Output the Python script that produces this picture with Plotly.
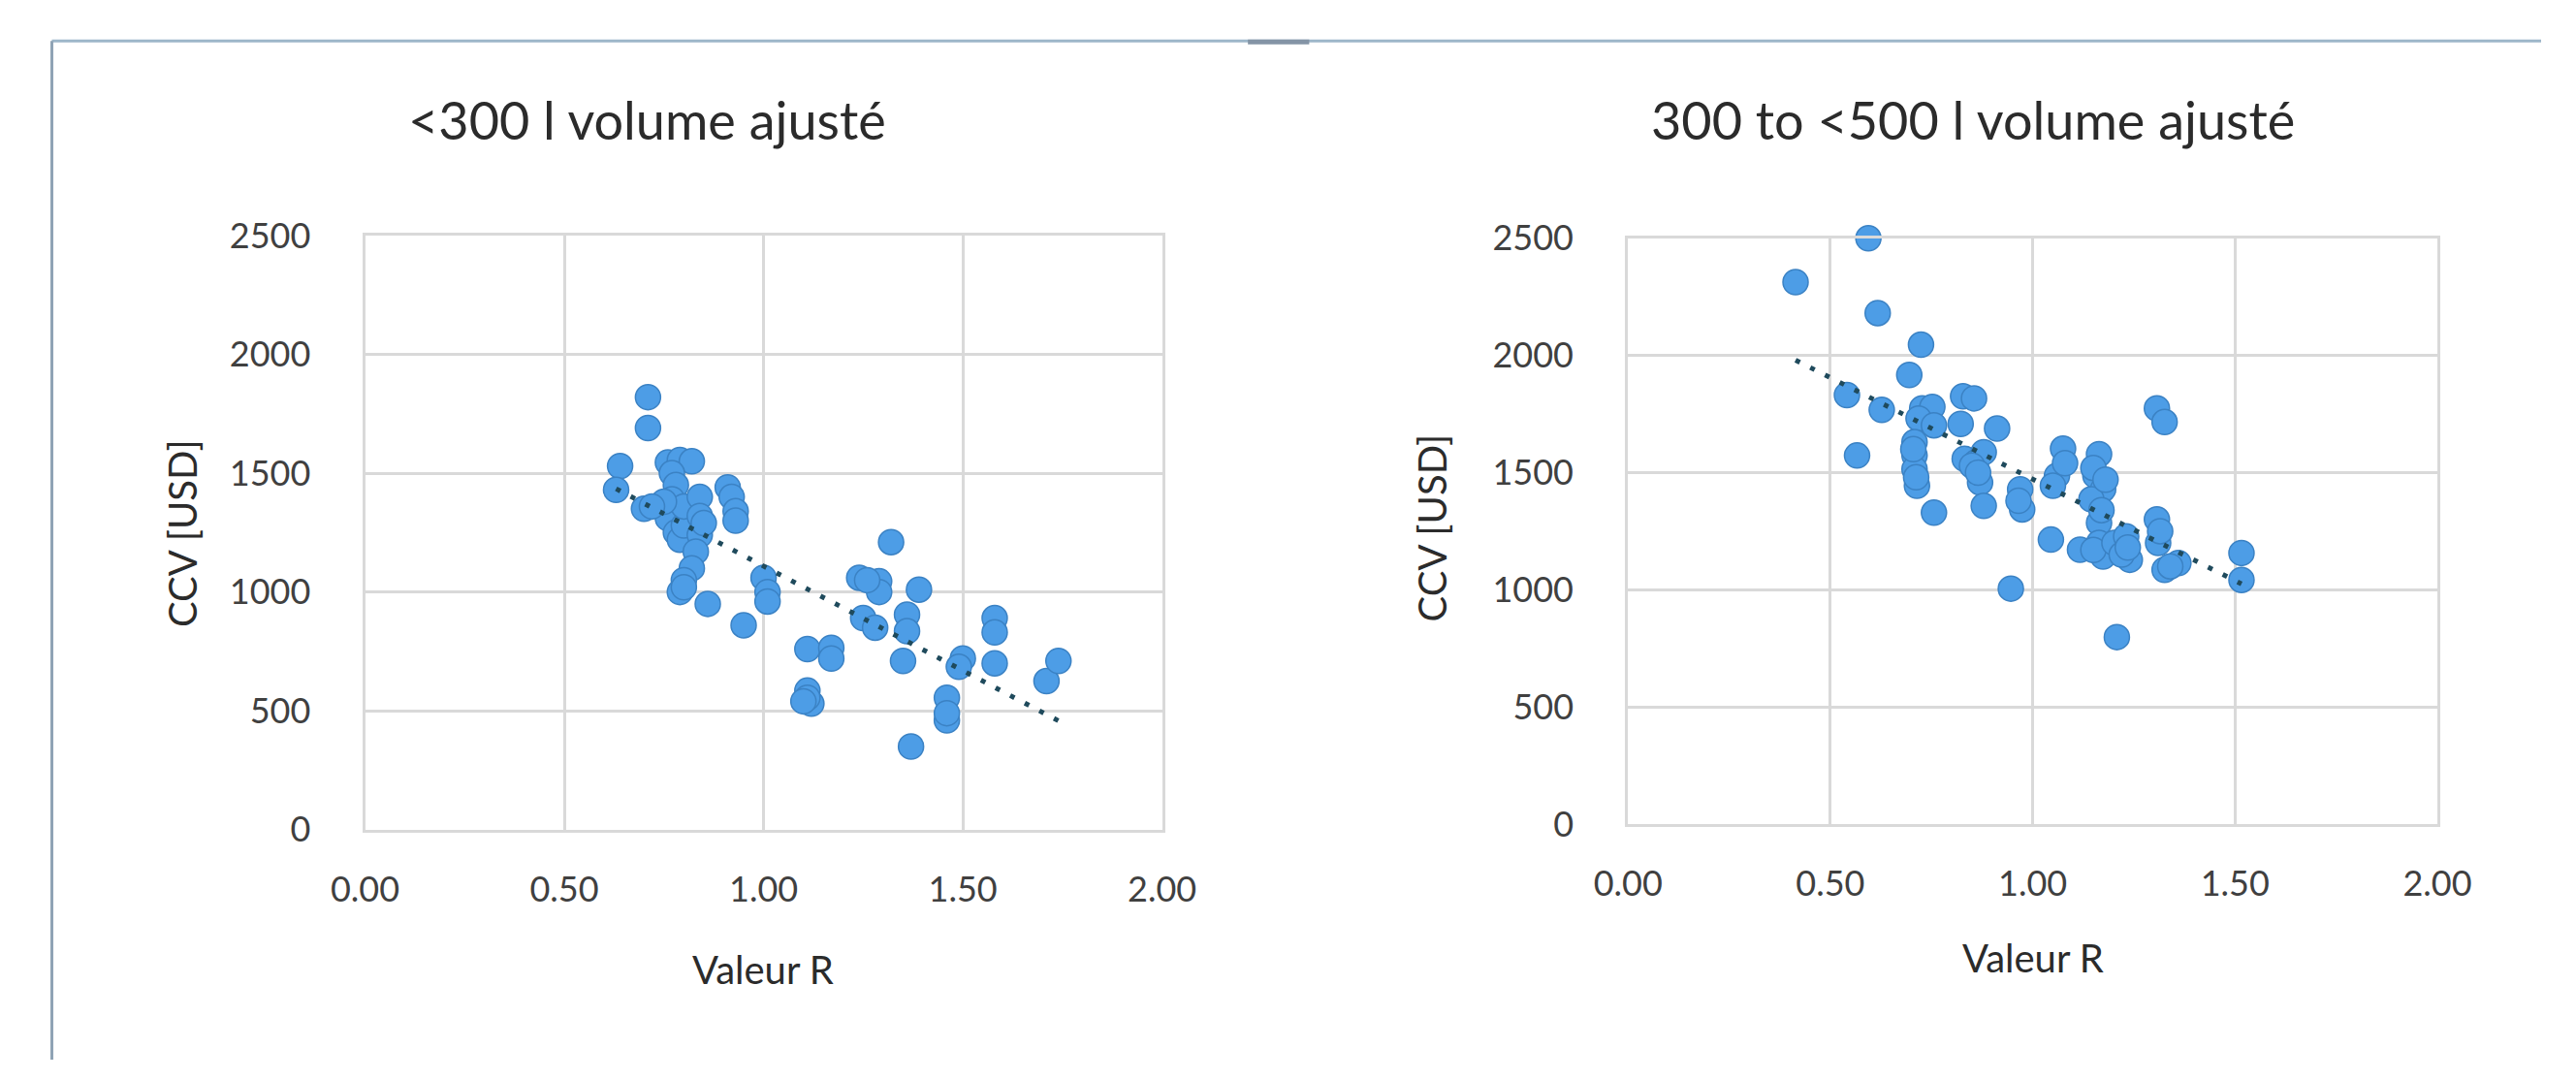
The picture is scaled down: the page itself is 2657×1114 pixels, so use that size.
import numpy as np
import plotly.graph_objects as go

W, H = 2657, 1114

# --- data: R value vs CCV (USD), two volume classes ---
titles = ["<300 l volume ajusté", "300 to <500 l volume ajusté"]
x_title = "Valeur R"
y_title = "CCV [USD]"
x_ticks = [0.0, 0.5, 1.0, 1.5, 2.0]
y_ticks = [0, 500, 1000, 1500, 2000, 2500]

r_small = [0.71, 0.71, 0.64, 0.63, 0.70,
           0.76, 0.79, 0.82, 0.77, 0.78, 0.77, 0.76, 0.78, 0.79, 0.80, 0.80,
           0.84, 0.84, 0.84, 0.83, 0.82, 0.80, 0.79, 0.80, 0.85, 0.75, 0.72,
           0.86, 0.91, 0.92, 0.93, 0.93,
           0.95, 1.00, 1.01, 1.01,
           1.11, 1.17, 1.17, 1.11, 1.12, 1.11, 1.10,
           1.32, 1.24, 1.29, 1.29, 1.26, 1.25, 1.28, 1.39, 1.36, 1.36, 1.35,
           1.37, 1.46, 1.46, 1.46, 1.50, 1.49, 1.58, 1.58, 1.58, 1.71, 1.74]
ccv_small = [1820, 1690, 1530, 1430, 1350,
             1545, 1555, 1550, 1500, 1450, 1390, 1310, 1250, 1220, 1280, 1360,
             1400, 1320, 1240, 1170, 1100, 1050, 1000, 1020, 1290, 1380, 1360,
             950, 1440, 1400, 1340, 1300,
             860, 1060, 1000, 960,
             760, 765, 720, 585, 530, 555, 540,
             1210, 1060, 1045, 1000, 1050, 890, 850, 1010, 905, 835, 710,
             350, 555, 460, 490, 720, 685, 890, 830, 700, 625, 710]

r_mid = [0.414, 0.594, 0.617, 0.724, 0.695, 0.541, 0.627, 0.566,
         0.727, 0.752, 0.718, 0.756, 0.708, 0.708, 0.708, 0.714, 0.705, 0.712,
         0.756,
         0.828, 0.855, 0.822, 0.832, 0.860, 0.879, 0.870, 0.879, 0.850, 0.865,
         0.912, 0.969, 0.974, 0.965,
         0.946, 1.045, 1.075, 1.060, 1.050, 1.080,
         1.117, 1.164, 1.155, 1.174, 1.145, 1.150, 1.180, 1.164, 1.164, 1.174,
         1.170, 1.150,
         1.202, 1.231, 1.240, 1.220, 1.235,
         1.208,
         1.307, 1.326, 1.307, 1.310, 1.326, 1.360, 1.315, 1.340,
         1.516, 1.516]
ccv_mid = [2313, 2500, 2181, 2046, 1917, 1831, 1768, 1573,
           1774, 1780, 1731, 1702, 1630, 1573, 1515, 1444, 1600, 1480,
           1329,
           1826, 1817, 1708, 1559, 1544, 1587, 1458, 1358, 1530, 1500,
           1688, 1429, 1343, 1380,
           1005, 1214, 1602, 1487, 1444, 1540,
           1171, 1579, 1487, 1429, 1386, 1520, 1470, 1286, 1200, 1142,
           1340, 1170,
           1200, 1228, 1128, 1150, 1180,
           798,
           1774, 1716, 1300, 1200, 1085, 1114, 1250, 1100,
           1157, 1042]

series = [(r_small, ccv_small), (r_mid, ccv_mid)]

# plot-area boxes in pixels: (left, right, top, bottom)
boxes = [(350, 1195, 229, 867), (1689, 2547, 232, 861)]
title_pos = [(649, 105), (2055, 105)]
xtitle_pos = [(772, 1017), (2118, 1005)]
ytitle_pos = [(157, 549), (1481, 543)]

FONT = "Lato"
TXT = "#2b2b2b"
GRID = "#d9d9d9"
MARKER = "#4d9de6"
MARKER_EDGE = "#3b82c4"
TREND = "#1f4a5c"

fig = go.Figure()
layout = dict(width=W, height=H, margin=dict(l=0, r=0, t=0, b=0),
              paper_bgcolor="white", plot_bgcolor="white", showlegend=False,
              annotations=[], shapes=[])

for i, ((xs, ys), (l, r, t, b)) in enumerate(zip(series, boxes)):
    sfx = "" if i == 0 else str(i + 1)
    xa, ya = "x" + sfx, "y" + sfx
    fig.add_trace(go.Scatter(
        x=xs, y=ys, mode="markers", xaxis=xa, yaxis=ya, cliponaxis=False,
        marker=dict(size=26, color=MARKER, line=dict(color=MARKER_EDGE, width=1.5)),
    ))
    # linear trend line (least squares)
    k, c = np.polyfit(xs, ys, 1)
    tx = np.array([min(xs), max(xs)])
    fig.add_trace(go.Scatter(
        x=tx, y=k * tx + c, mode="lines", xaxis=xa, yaxis=ya,
        line=dict(color=TREND, width=5, dash="5px,12px"),
    ))
    axis_common = dict(showgrid=True, gridcolor=GRID, gridwidth=3,
                       showline=True, linecolor=GRID, linewidth=3, mirror=True,
                       zeroline=False, ticks="",
                       tickfont=dict(family=FONT, size=36, color="#404040"))
    layout["xaxis" + sfx] = dict(domain=[l / W, r / W], range=[0, 2],
                                 tickvals=x_ticks, tickformat=".2f",
                                 ticklabelstandoff=28, anchor=ya, **axis_common)
    layout["yaxis" + sfx] = dict(domain=[1 - b / H, 1 - t / H], range=[0, 2500],
                                 tickvals=y_ticks, ticklabelstandoff=46,
                                 anchor=xa, **axis_common)
    tx_, ty_ = title_pos[i]
    layout["annotations"].append(dict(
        text=titles[i], x=tx_ / W, y=1 - ty_ / H, xref="paper", yref="paper",
        showarrow=False, xanchor="center", yanchor="middle",
        font=dict(family=FONT, size=54, color=TXT)))
    ax_, ay_ = xtitle_pos[i]
    layout["annotations"].append(dict(
        text=x_title, x=ax_ / W, y=1 - ay_ / H, xref="paper", yref="paper",
        showarrow=False, xanchor="center", yanchor="middle",
        font=dict(family=FONT, size=40, color=TXT)))
    yx_, yy_ = ytitle_pos[i]
    layout["annotations"].append(dict(
        text=y_title, x=yx_ / W, y=1 - yy_ / H, xref="paper", yref="paper",
        showarrow=False, xanchor="center", yanchor="middle", textangle=-90,
        font=dict(family=FONT, size=40, color=TXT)))

# outer frame lines (left and top)
frame = "#9db6c9"
layout["shapes"] += [
    dict(type="line", xref="paper", yref="paper", x0=18 / W, x1=1, y0=1 - 20 / H, y1=1 - 20 / H,
         line=dict(color=frame, width=3)),
    dict(type="line", xref="paper", yref="paper", x0=18 / W, x1=18 / W, y0=0, y1=1 - 20 / H,
         line=dict(color="#8fa3b5", width=3)),
    dict(type="line", xref="paper", yref="paper", x0=1286 / W, x1=1351 / W,
         y0=1 - 21 / H, y1=1 - 21 / H, line=dict(color="#8494a6", width=5)),
]

fig.update_layout(**layout)
fig.write_html("out.html")
